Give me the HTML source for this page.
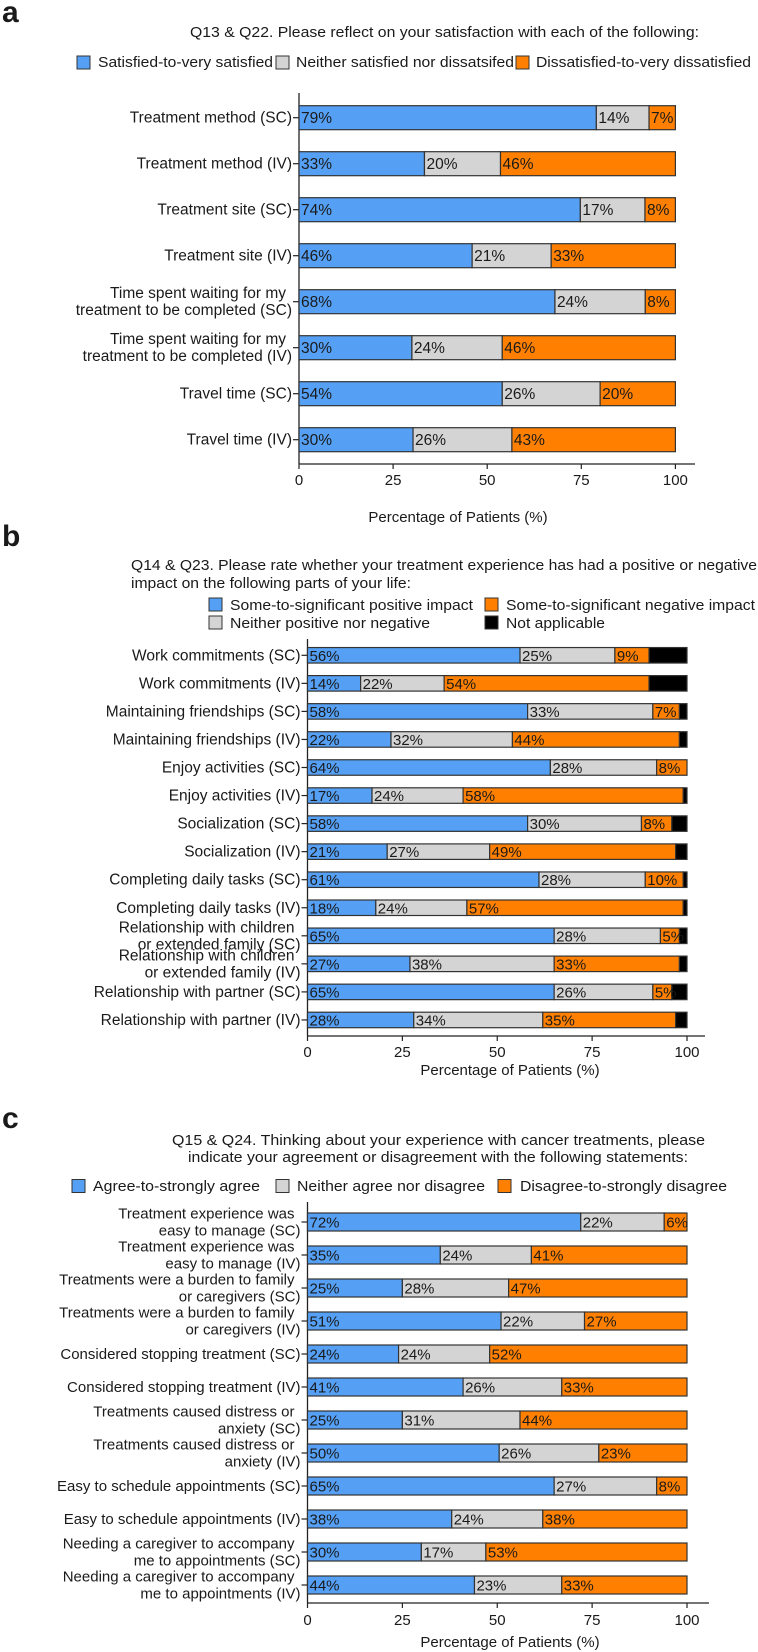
<!DOCTYPE html>
<html><head><meta charset="utf-8"><style>
html,body{margin:0;padding:0;background:#fff;}
svg{display:block;font-family:"Liberation Sans",Arial,sans-serif;}
</style></head><body>
<svg id="chart" width="758" height="1652" viewBox="0 0 758 1652" xmlns="http://www.w3.org/2000/svg">
<g id="static" fill="#1a1a1a">
  <text x="2" y="22" font-size="30" font-weight="bold">a</text>
  <text x="190" y="37" font-size="14.5" textLength="509" lengthAdjust="spacingAndGlyphs">Q13 &amp; Q22.  Please reflect on your satisfaction with each of the following:</text>
  <rect x="77" y="56" width="13" height="13" fill="#55a0f5" stroke="#333"/>
  <text x="98" y="67" font-size="14.5" textLength="175" lengthAdjust="spacingAndGlyphs">Satisfied-to-very satisfied</text>
  <rect x="276" y="56" width="13" height="13" fill="#d4d4d4" stroke="#333"/>
  <text x="296" y="67" font-size="14.5" textLength="218" lengthAdjust="spacingAndGlyphs">Neither satisfied nor dissatsifed</text>
  <rect x="516" y="56" width="13" height="13" fill="#ff8000" stroke="#333"/>
  <text x="536" y="67" font-size="14.5" textLength="215" lengthAdjust="spacingAndGlyphs">Dissatisfied-to-very dissatisfied</text>

  <text x="2" y="546" font-size="30" font-weight="bold">b</text>
  <text x="131" y="570" font-size="14.5" textLength="626" lengthAdjust="spacingAndGlyphs">Q14 &amp; Q23. Please rate whether your treatment experience has had a positive or negative</text>
  <text x="131" y="588" font-size="14.5" textLength="280" lengthAdjust="spacingAndGlyphs">impact on the following parts of your life:</text>
  <rect x="209" y="598" width="13" height="13" fill="#55a0f5" stroke="#333"/>
  <text x="230" y="610" font-size="14.5" textLength="243" lengthAdjust="spacingAndGlyphs">Some-to-significant positive impact</text>
  <rect x="485" y="598" width="13" height="13" fill="#ff8000" stroke="#333"/>
  <text x="506" y="610" font-size="14.5" textLength="249" lengthAdjust="spacingAndGlyphs">Some-to-significant negative impact</text>
  <rect x="209" y="616" width="13" height="13" fill="#d4d4d4" stroke="#333"/>
  <text x="230" y="628" font-size="14.5" textLength="200" lengthAdjust="spacingAndGlyphs">Neither positive nor negative</text>
  <rect x="485" y="616" width="13" height="13" fill="#000" stroke="#333"/>
  <text x="506" y="628" font-size="14.5" textLength="99" lengthAdjust="spacingAndGlyphs">Not applicable</text>

  <text x="2" y="1128" font-size="30" font-weight="bold">c</text>
  <text x="172" y="1145" font-size="14.5" textLength="533" lengthAdjust="spacingAndGlyphs">Q15 &amp; Q24.  Thinking about your experience with cancer treatments, please</text>
  <text x="188" y="1162" font-size="14.5" textLength="500" lengthAdjust="spacingAndGlyphs">indicate your agreement or disagreement with the following statements:</text>
  <rect x="72" y="1179.5" width="13" height="13" fill="#55a0f5" stroke="#333"/>
  <text x="93" y="1191" font-size="14.5" textLength="167" lengthAdjust="spacingAndGlyphs">Agree-to-strongly agree</text>
  <rect x="276" y="1179.5" width="13" height="13" fill="#d4d4d4" stroke="#333"/>
  <text x="297" y="1191" font-size="14.5" textLength="188" lengthAdjust="spacingAndGlyphs">Neither agree nor disagree</text>
  <rect x="498" y="1179.5" width="13" height="13" fill="#ff8000" stroke="#333"/>
  <text x="520" y="1191" font-size="14.5" textLength="207" lengthAdjust="spacingAndGlyphs">Disagree-to-strongly disagree</text>
</g>
</svg>
<script>
const ticks = [0, 25, 50, 75, 100];
const aCats = ["Treatment method (SC)","Treatment method (IV)","Treatment site (SC)","Treatment site (IV)","Time spent waiting for my\ntreatment to be completed (SC)","Time spent waiting for my\ntreatment to be completed (IV)","Travel time (SC)","Travel time (IV)"];
const aPos = [79,33,74,46,68,30,54,30];
const aNeu = [14,20,17,21,24,24,26,26];
const aNeg = [7,46,8,33,8,46,20,43];

const bCats = ["Work commitments (SC)","Work commitments (IV)","Maintaining friendships (SC)","Maintaining friendships (IV)","Enjoy activities (SC)","Enjoy activities (IV)","Socialization (SC)","Socialization (IV)","Completing daily tasks (SC)","Completing daily tasks (IV)","Relationship with children\nor extended family (SC)","Relationship with children\nor extended family (IV)","Relationship with partner (SC)","Relationship with partner (IV)"];
const bPos = [56,14,58,22,64,17,58,21,61,18,65,27,65,28];
const bNeu = [25,22,33,32,28,24,30,27,28,24,28,38,26,34];
const bNeg = [9,54,7,44,8,58,8,49,10,57,5,33,5,35];
const bNA  = [10,10,2,2,0,1,4,3,1,1,2,2,4,3];

const cCats = ["Treatment experience was\neasy to manage (SC)","Treatment experience was\neasy to manage (IV)","Treatments were a burden to family\nor caregivers (SC)","Treatments were a burden to family\nor caregivers (IV)","Considered stopping treatment (SC)","Considered stopping treatment (IV)","Treatments caused distress or\nanxiety (SC)","Treatments caused distress or\nanxiety (IV)","Easy to schedule appointments (SC)","Easy to schedule appointments (IV)","Needing a caregiver to accompany\nme to appointments (SC)","Needing a caregiver to accompany\nme to appointments (IV)"];
const cAgree = [72,35,25,51,24,41,25,50,65,38,30,44];
const cNeu = [22,24,28,22,24,26,31,26,27,24,17,23];
const cDis = [6,41,47,27,52,33,44,23,8,38,53,33];

const NS = "http://www.w3.org/2000/svg";
const svg = document.getElementById("chart");
function mk(tag, attrs, parent){
  const e = document.createElementNS(NS, tag);
  for (const k in attrs) e.setAttribute(k, attrs[k]);
  (parent||svg).appendChild(e);
  return e;
}
const COLORS = ["#55a0f5","#d4d4d4","#ff8000","#000000"];
const SEGNAMES = ["positive","neutral","negative","not-applicable"];

function drawPanel(id, cats, series, L){
  const g = mk("g", {});
  
  
  const xs = v => L.x0 + (L.x100 - L.x0) * v / 100;
  const ys = i => L.row0 + i * L.step;
  const ya = mk("line", {x1:L.x0, y1:L.top, x2:L.x0, y2:L.axisY, stroke:"#222", "stroke-width":1.3}, g);
  
  
  const xa = mk("line", {x1:L.x0, y1:L.axisY, x2:L.right, y2:L.axisY, stroke:"#222", "stroke-width":1.3}, g);
  
  
  ticks.forEach(t => {
    const x = xs(t);
    mk("line", {x1:x, y1:L.axisY, x2:x, y2:L.axisY+5, stroke:"#222", "stroke-width":1.2}, g);
    const tl = mk("text", {x:x, y:L.tickY+5, "font-size":15, "text-anchor":"middle", fill:"#1a1a1a"}, g);
    tl.textContent = t;
    
    
  });
  const at = mk("text", {x:L.titleX, y:L.titleY+5, "font-size":15, "text-anchor":"middle", fill:"#1a1a1a"}, g);
  at.textContent = "Percentage of  Patients  (%)";
  
  
  cats.forEach((c, i) => {
    const y = ys(i);
    mk("line", {x1:L.x0-6, y1:y, x2:L.x0, y2:y, stroke:"#222", "stroke-width":1.2}, g);
    const lines = c.split("\n");
    const lab = mk("text", {"font-size":L.fs, "text-anchor":"end", fill:"#1a1a1a"}, g);
    
    
    lines.forEach((ln, k) => {
      const ts = mk("tspan", {x: L.x0 - 7 - (lines.length>1 && k===0 ? 6 : 0), y: y + 5 + (lines.length>1 ? (k===0 ? -L.lh : L.lh) : 0)}, lab);
      ts.textContent = ln;
    });
    const vals = series.map(s => s[i]);
    const sum = vals.reduce((a,b)=>a+b,0);
    let cum = 0;
    vals.forEach((v, k) => {
      const xa0 = xs(cum / sum * 100);
      cum += v;
      const xa1 = xs(cum / sum * 100);
      if (v <= 0) return;
      const r = mk("rect", {x:xa0, y:y-L.barH/2, width:xa1-xa0, height:L.barH, fill:COLORS[k], stroke:"#333", "stroke-width":1.2}, g);
      
      
    });
    cum = 0;
    vals.forEach((v, k) => {
      const xa0 = xs(cum / sum * 100);
      cum += v;
      if (k > 2) return;
      const t = mk("text", {x:xa0+2, y:y+5.5, "font-size":L.vfs, fill:"#1a1a1a"}, g);
      t.textContent = v + "%";
      
      
    });
  });
}

drawPanel("panel-a", aCats, [aPos, aNeu, aNeg],
  {x0:299, x100:675.4, row0:117.7, step:46, barH:24, top:93, axisY:464, right:695, tickY:480, titleX:458, titleY:517, fs:15.5, vfs:15.5, lh:8.5});
drawPanel("panel-b", bCats, [bPos, bNeu, bNeg, bNA],
  {x0:307.5, x100:687, row0:655.3, step:28.05, barH:15.5, top:639, axisY:1036, right:705, tickY:1052, titleX:510, titleY:1070, fs:15.5, vfs:15, lh:8.5});
drawPanel("panel-c", cCats, [cAgree, cNeu, cDis],
  {x0:307.5, x100:687, row0:1222, step:33, barH:18, top:1202, axisY:1603, right:709, tickY:1620, titleX:510, titleY:1642, fs:15, vfs:15, lh:8.7});
</script>
</body></html>
